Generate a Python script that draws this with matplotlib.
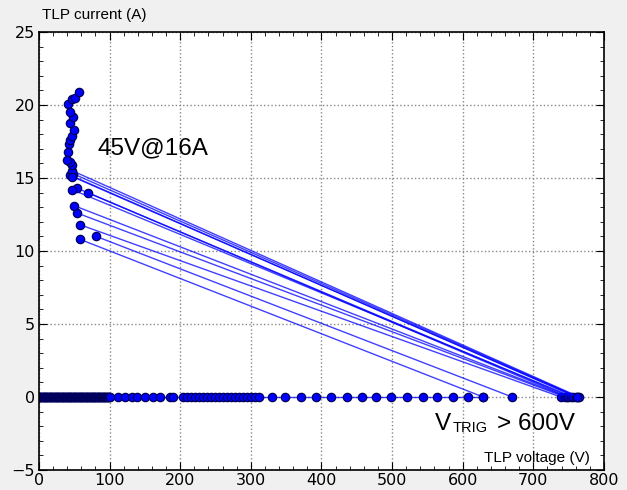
import matplotlib
matplotlib.use('Agg')
from matplotlib import pyplot as plt
from matplotlib.ticker import MultipleLocator

# pulses below trigger: current stays at 0 A
leak_v = [0, 1, 2, 3, 4, 5, 6, 7, 8, 9, 10, 11, 12, 13, 14, 15, 16, 17, 18, 19,
          20, 21, 22, 23, 24, 25, 26, 27, 28, 29, 30, 31, 32, 33, 34, 35, 36, 37, 38, 39,
          40, 41, 42, 43, 44, 45, 46, 47, 48, 49, 50, 51, 52, 53, 54, 55, 56, 57, 58, 59,
          60, 61, 62, 63, 64, 65, 66, 67, 68, 69, 70, 71, 72, 73, 74, 75, 76, 77, 78, 79,
          80, 81, 82, 83, 84, 85, 86, 87, 88, 89, 90, 91, 92, 93, 94, 95, 96, 97, 98, 99,
          100, 112, 122, 132, 139, 150, 161, 171, 185, 190,
          204, 210, 215, 221, 226, 232, 238, 243, 249, 255, 260, 266, 272, 277, 283,
          289, 294, 300, 306, 311,
          330, 348, 371, 392, 413, 436, 457, 477, 498, 521, 544, 564, 586, 607, 629]
leak_i = [0.0] * len(leak_v)

# trigger voltage of each sweep and the snapback point it jumps to
trig_v = [629, 670, 739, 745, 748, 749, 753, 756, 760, 763, 765, 762]
snap_v = [58, 81, 58, 54, 50, 69, 54, 47, 44, 48, 47, 47]
snap_i = [10.8, 11.0, 11.8, 12.6, 13.1, 14.0, 14.3, 14.2, 15.2, 15.3, 15.5, 15.1]

# after snapback the last sweep keeps climbing
hold_v = [47, 44, 40, 41, 42, 44, 47, 50, 44, 48, 44, 41, 47, 51, 57]
hold_i = [15.9, 16.1, 16.2, 16.8, 17.3, 17.6, 17.9, 18.3, 18.8, 19.2, 19.5, 20.1, 20.4, 20.5, 20.9]

line_kw = dict(color='#0000ff', lw=1.0, alpha=0.75)
mark_kw = dict(ls='none', marker='o', ms=6, mfc='#0000ff', mec='#00005a', mew=0.9)

fig = plt.figure(figsize=(6.27, 4.9), dpi=100, facecolor='#f0f0f0')
ax = fig.add_axes([0.0622, 0.0408, 0.9011, 0.8939])
ax.set_facecolor('white')

ax.plot(leak_v, leak_i, **line_kw)
for k in range(len(trig_v)):
    xs = [trig_v[k], snap_v[k]]
    ys = [0.0, snap_i[k]]
    if k == len(trig_v) - 1:
        xs += hold_v
        ys += hold_i
    ax.plot(xs, ys, **line_kw)
    ax.plot(xs, ys, **mark_kw)
ax.plot(leak_v, leak_i, **mark_kw)

ax.set_xlim(0, 800)
ax.set_ylim(-5, 25)
ax.xaxis.set_major_locator(MultipleLocator(100))
ax.xaxis.set_minor_locator(MultipleLocator(20))
ax.yaxis.set_major_locator(MultipleLocator(5))
ax.yaxis.set_minor_locator(MultipleLocator(1))
ax.tick_params(which='both', direction='in', top=True, right=True, labelsize=11.5)
ax.tick_params(which='major', length=6)
ax.tick_params(which='minor', length=3)
ax.tick_params(axis='x', pad=2)
ax.tick_params(axis='y', pad=3)
ax.grid(True, which='major', ls=':', color='#888888', lw=1)
for s in ax.spines.values():
    s.set_linewidth(1.2)

fig.text(0.067, 0.969, 'TLP current (A)', family='Liberation Sans', fontsize=11, va='center')
ax.text(0.975, 0.012, 'TLP voltage (V)', family='Liberation Sans', fontsize=11,
        ha='right', va='bottom', transform=ax.transAxes)
ax.text(83, 16.6, '45V@16A', family='Liberation Sans', fontsize=17.5, va='baseline')

# V_TRIG label built from three pieces so the subscript can be sized freely
ax.text(561, -2.26, 'V', family='Liberation Sans', fontsize=17.5, va='baseline')
ax.text(586, -2.38, 'TRIG', family='Liberation Sans', fontsize=10.5, va='baseline')
ax.text(648, -2.26, '> 600V', family='Liberation Sans', fontsize=17.5, va='baseline')

fig.savefig('out.png', dpi=100, facecolor=fig.get_facecolor())
